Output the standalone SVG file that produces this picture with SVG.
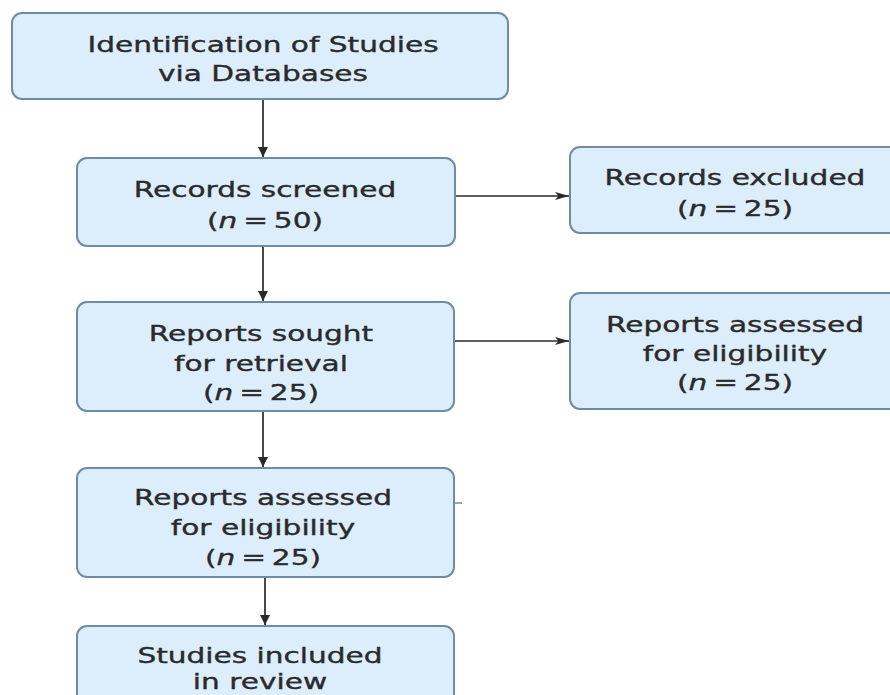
<svg xmlns="http://www.w3.org/2000/svg" width="890" height="695" viewBox="0 0 890 695">
<defs>
<style>
.box{fill:#dcedfb;stroke:#6f8ca6;stroke-width:2}
.t{font-family:"DejaVu Sans","Liberation Sans",sans-serif;font-size:21px;fill:#2a2a2a;stroke:#2a2a2a;stroke-width:0.35px;text-anchor:middle}
.e{stroke:#2a2a2a;stroke-width:1.7;fill:none}
</style>
<marker id="ah" viewBox="0 0 10 10" refX="10" refY="5" markerWidth="10" markerHeight="11" markerUnits="userSpaceOnUse" orient="auto">
<path d="M0,0 L10,5 L0,10 z" fill="#2a2a2a"/>
</marker>
<marker id="ahh" viewBox="0 0 10 10" refX="10" refY="5" markerWidth="14" markerHeight="9" preserveAspectRatio="none" markerUnits="userSpaceOnUse" orient="auto">
<path d="M0,0.5 L10,5 L0,9.5 L2.5,5 z" fill="#2a2a2a"/>
</marker>
</defs>
<rect width="890" height="695" fill="#ffffff"/>
<g id="connectors">
<line class="e" x1="263" y1="100" x2="263" y2="157" marker-end="url(#ah)"/>
<line class="e" x1="263" y1="247" x2="263" y2="301" marker-end="url(#ah)"/>
<line class="e" x1="263" y1="412" x2="263" y2="467" marker-end="url(#ah)"/>
<line class="e" x1="265" y1="578" x2="265" y2="625" marker-end="url(#ah)"/>
<line class="e" x1="456" y1="196" x2="569" y2="196" marker-end="url(#ahh)"/>
<line class="e" x1="455" y1="341" x2="569" y2="341" marker-end="url(#ahh)"/>
<line x1="454" y1="503" x2="462" y2="503" stroke="#6f8ca6" stroke-width="1.5"/>
</g>
<g id="n1">
<rect class="box" x="12" y="13" width="496" height="86" rx="10"/>
<g transform="translate(263 0) scale(1.41 1)">
<text class="t" x="0" y="52">Identification of Studies</text>
<text class="t" x="0" y="81">via Databases</text>
</g>
</g>
<g id="n2">
<rect class="box" x="77" y="158" width="378" height="88" rx="10"/>
<g transform="translate(265 0) scale(1.41 1)">
<text class="t" x="0" y="197">Records screened</text>
<text class="t" x="0" y="228">(<tspan font-style="italic">n</tspan>&#8201;=&#8201;50)</text>
</g>
</g>
<g id="n3">
<rect class="box" x="77" y="302" width="377" height="109" rx="10"/>
<g transform="translate(261 0) scale(1.41 1)">
<text class="t" x="0" y="341">Reports sought</text>
<text class="t" x="0" y="371">for retrieval</text>
<text class="t" x="0" y="400">(<tspan font-style="italic">n</tspan>&#8201;=&#8201;25)</text>
</g>
</g>
<g id="n4">
<rect class="box" x="77" y="468" width="377" height="109" rx="10"/>
<g transform="translate(263 0) scale(1.41 1)">
<text class="t" x="0" y="505">Reports assessed</text>
<text class="t" x="0" y="535">for eligibility</text>
<text class="t" x="0" y="565">(<tspan font-style="italic">n</tspan>&#8201;=&#8201;25)</text>
</g>
</g>
<g id="n5">
<rect class="box" x="77" y="626" width="377" height="95" rx="10"/>
<g transform="translate(260 0) scale(1.41 1)">
<text class="t" x="0" y="663">Studies included</text>
<text class="t" x="0" y="689">in review</text>
</g>
</g>
<g id="r1">
<rect class="box" x="570" y="147" width="340" height="86" rx="10"/>
<g transform="translate(735 0) scale(1.41 1)">
<text class="t" x="0" y="185">Records excluded</text>
<text class="t" x="0" y="216">(<tspan font-style="italic">n</tspan>&#8201;=&#8201;25)</text>
</g>
</g>
<g id="r2">
<rect class="box" x="570" y="293" width="340" height="116" rx="10"/>
<g transform="translate(735 0) scale(1.41 1)">
<text class="t" x="0" y="332">Reports assessed</text>
<text class="t" x="0" y="361">for eligibility</text>
<text class="t" x="0" y="390">(<tspan font-style="italic">n</tspan>&#8201;=&#8201;25)</text>
</g>
</g>
</svg>
